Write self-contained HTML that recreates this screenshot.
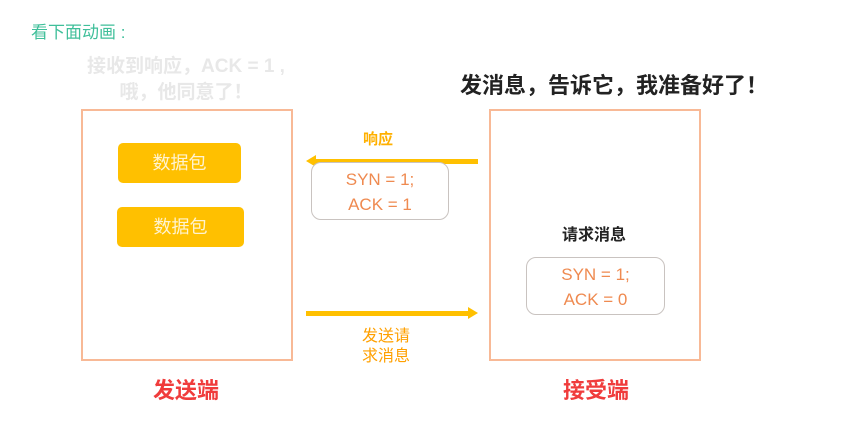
<!DOCTYPE html>
<html><head><meta charset="utf-8"><style>
body{margin:0;width:841px;height:421px;background:#fff;position:relative;overflow:hidden;font-family:"Liberation Sans","Noto Sans CJK SC",sans-serif}
.a{position:absolute}
.box{position:absolute;border:2px solid #f8b996;box-sizing:border-box}
.pkt{position:absolute;background:#ffc000;border-radius:5px;color:#fff3d0;font-size:18px;text-align:center}
.msg{position:absolute;border:1.5px solid #c9c3c0;border-radius:10px;color:#ef8a50;font-size:17px;text-align:center;line-height:25px;box-sizing:border-box;background:#fff}
</style></head><body>
<div class="a" style="left:31px;top:18px;font-size:17px;color:#3fbf9a">看下面动画 :</div>
<div class="a" style="left:66px;top:54px;width:240px;text-align:center;font-size:19px;color:#e8e8e8;font-weight:bold;line-height:26px">接收到响应，ACK = 1 ,<br>哦，他同意了！</div>
<div class="a" style="left:460px;top:68px;font-size:22px;color:#222;font-weight:bold;white-space:nowrap">发消息，告诉它，我准备好了！</div>
<div class="box" style="left:81px;top:109px;width:212px;height:252px"></div>
<div class="box" style="left:489px;top:109px;width:212px;height:252px"></div>
<div class="pkt" style="left:118px;top:143px;width:123px;height:40px;line-height:40px">数据包</div>
<div class="pkt" style="left:117px;top:207px;width:127px;height:40px;line-height:40px">数据包</div>
<div class="a" style="left:363px;top:128px;font-size:15px;color:#ffb000;font-weight:bold">响应</div>
<div class="a" style="left:314px;top:159px;width:164px;height:5px;background:#ffc000"></div>
<div class="a" style="left:306px;top:155px;width:0;height:0;border-top:6px solid transparent;border-bottom:6px solid transparent;border-right:10px solid #ffc000"></div>
<div class="msg" style="left:311px;top:162px;width:138px;height:58px;padding-top:4px">SYN = 1;<br>ACK = 1</div>
<div class="a" style="left:562px;top:221px;font-size:16px;color:#222;font-weight:bold">请求消息</div>
<div class="msg" style="left:526px;top:257px;width:139px;height:58px;padding-top:4px">SYN = 1;<br>ACK = 0</div>
<div class="a" style="left:306px;top:311px;width:164px;height:5px;background:#ffc000"></div>
<div class="a" style="left:468px;top:307px;width:0;height:0;border-top:6px solid transparent;border-bottom:6px solid transparent;border-left:10px solid #ffc000"></div>
<div class="a" style="left:362px;top:327px;font-size:16px;color:#ffa000;line-height:20px">发送请<br>求消息</div>
<div class="a" style="left:153px;top:373px;font-size:22px;color:#f03c3c;font-weight:bold">发送端</div>
<div class="a" style="left:563px;top:373px;font-size:22px;color:#f03c3c;font-weight:bold">接受端</div>
</body></html>
